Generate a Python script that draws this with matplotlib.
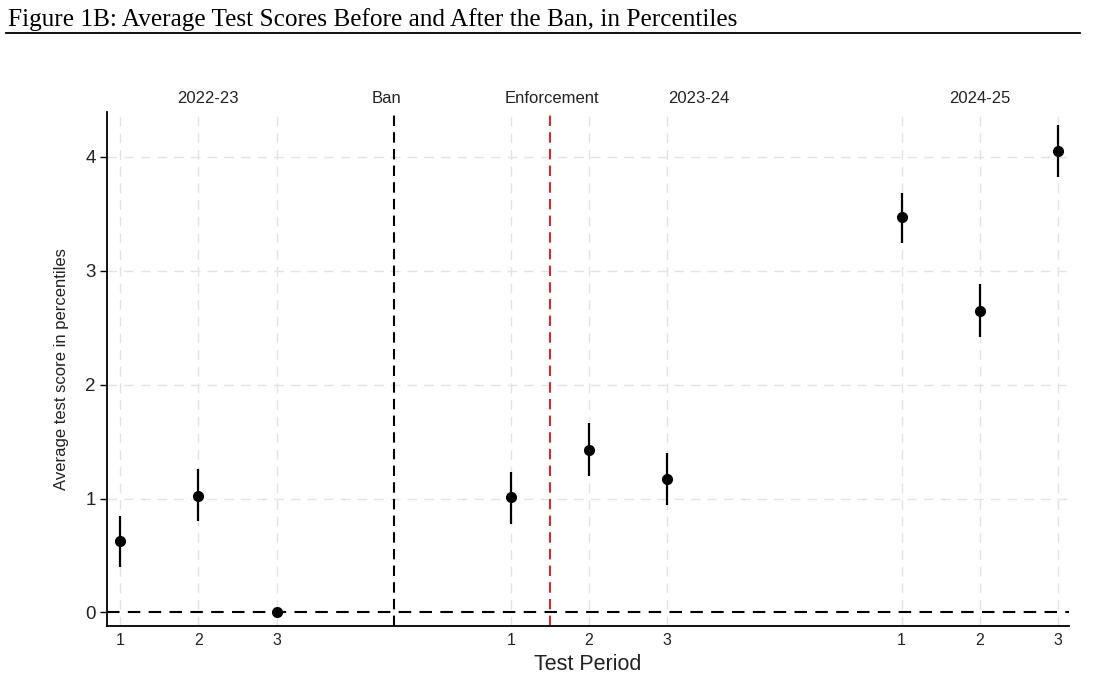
import matplotlib
matplotlib.use("Agg")
import matplotlib.pyplot as plt
from matplotlib.lines import Line2D

# datos
posiciones = [1, 2, 3, 6, 7, 8, 11, 12, 13]
etiquetas_x = ["1", "2", "3", "1", "2", "3", "1", "2", "3"]
promedio = [0.63, 1.02, 0.0, 1.01, 1.43, 1.17, 3.47, 2.65, 4.05]
ic_bajo = [0.40, 0.80, 0.0, 0.78, 1.20, 0.94, 3.24, 2.42, 3.82]
ic_alto = [0.85, 1.26, 0.0, 1.23, 1.66, 1.40, 3.68, 2.88, 4.28]

periodos = ["2022-23", "2023-24", "2024-25"]
pos_periodos = [2.12, 8.4, 12.0]
eventos = ["Ban", "Enforcement"]
pos_eventos = [4.5, 6.5]
pos_texto_eventos = [4.41, 6.53]
colores_eventos = ["black", "#d42a33"]

plt.rcParams["font.family"] = ["Liberation Sans", "DejaVu Sans"]

fig = plt.figure(figsize=(11.08, 6.87), dpi=100)
ax = fig.add_axes([0.0966, 0.0894, 0.868, 0.7472])

# titulo estilo documento
fig.text(0.007, 0.9615, "Figure 1B: Average Test Scores Before and After the Ban, in Percentiles",
         family=["Liberation Serif"], fontsize=18.2, va="baseline", ha="left")
fig.add_artist(Line2D([0.005, 0.975], [0.9525, 0.9525], color="black", lw=1.3,
                      transform=fig.transFigure))

ax.set_xlim(0.83, 13.14)
ax.set_ylim(-0.115, 4.39)

for x in posiciones:
    ax.axvline(x, color="#e3e3e3", lw=1, ls=(0, (7, 5)), zorder=0)
for y in [1, 2, 3, 4]:
    ax.axhline(y, color="#e3e3e3", lw=1, ls=(0, (7, 5)), zorder=0)

ax.axhline(0, color="black", lw=1.5, ls=(0, (6, 4)), zorder=1)

for x, c in zip(pos_eventos, colores_eventos):
    ax.axvline(x, color=c, lw=1.5, ls=(0, (5, 3)), zorder=1)

err_abajo = [p - b for p, b in zip(promedio, ic_bajo)]
err_arriba = [a - p for p, a in zip(promedio, ic_alto)]
ax.errorbar(posiciones, promedio, yerr=[err_abajo, err_arriba], fmt="o", color="black",
            ms=7, elinewidth=1.6, capsize=0, zorder=3)

for t, x in zip(periodos, pos_periodos):
    ax.text(x, 1.012, t, transform=ax.get_xaxis_transform(), ha="center", va="bottom",
            fontsize=12, color="#222222")
for t, x in zip(eventos, pos_texto_eventos):
    ax.text(x, 1.012, t, transform=ax.get_xaxis_transform(), ha="center", va="bottom",
            fontsize=12, color="#222222")

ax.set_xticks(posiciones)
ax.set_xticklabels(etiquetas_x)
ax.set_yticks([0, 1, 2, 3, 4])
ax.tick_params(axis="x", length=0, pad=5, labelsize=11.5, labelcolor="#222222")
ax.tick_params(axis="y", length=5, width=1, pad=3, labelsize=13.5, labelcolor="#222222")

ax.spines["top"].set_visible(False)
ax.spines["right"].set_visible(False)
ax.spines["left"].set_linewidth(1.3)
ax.spines["bottom"].set_linewidth(1.3)

ax.set_xlabel("Test Period", fontsize=15.5, color="#222222", labelpad=5)
ax.set_ylabel("Average test score in percentiles", fontsize=12, color="#222222", labelpad=12)

fig.savefig("out.png", dpi=100)
